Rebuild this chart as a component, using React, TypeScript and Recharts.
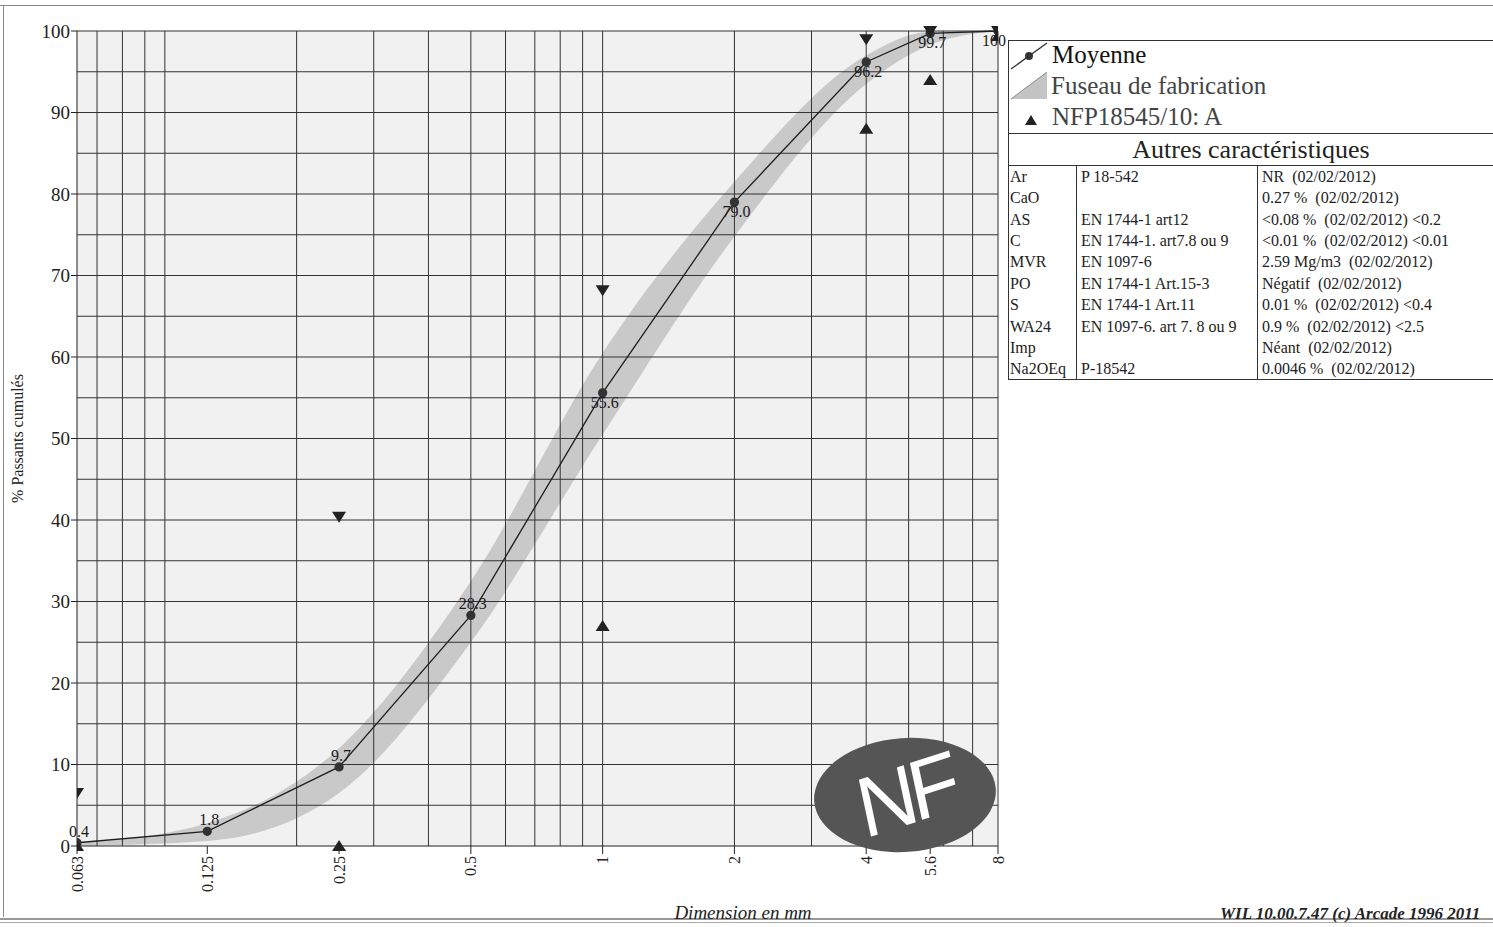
import React from "react";
import {
  ComposedChart,
  Line,
  Area,
  Scatter,
  XAxis,
  YAxis,
  ReferenceLine,
  ReferenceArea,
  LabelList,
} from "recharts";

// sieve sizes (mm) and cumulated passing (%)
const sizes = [0.063, 0.125, 0.25, 0.5, 1, 2, 4, 5.6, 8];
const moyenne = [0.4, 1.8, 9.7, 28.3, 55.6, 79.0, 96.2, 99.7, 100];
const fuseauLow = [0, 0.6, 6.5, 25, 50.5, 74.8, 93.5, 98.3, 100];
const fuseauHigh = [0.4, 2.8, 12, 32.5, 60.5, 81.5, 97, 99.9, 100];

// NFP18545/10: A limits
const limitSizes = [0.063, 0.25, 1, 4, 5.6, 8];
const limitUpper = [6.5, 40.4, 68.2, 99, 100, 100];
const limitLower = [0, 0, 27, 88, 94, 99.4];

const xTicks = [0.063, 0.125, 0.25, 0.5, 1, 2, 4, 5.6, 8];
const yTicks = [0, 10, 20, 30, 40, 50, 60, 70, 80, 90, 100];
const gridX = [0.07, 0.08, 0.09, 0.1, 0.2, 0.3, 0.4, 0.5, 0.6, 0.7, 0.8, 0.9, 1, 2, 3, 4, 5, 6, 7, 8];
const gridY = [5, 10, 15, 20, 25, 30, 35, 40, 45, 50, 55, 60, 65, 70, 75, 80, 85, 90, 95, 100];

const caracteristiques = [
  ["Ar", "P 18-542", "NR  (02/02/2012)"],
  ["CaO", "", "0.27 %  (02/02/2012)"],
  ["AS", "EN 1744-1 art12", "<0.08 %  (02/02/2012) <0.2"],
  ["C", "EN 1744-1. art7.8 ou 9", "<0.01 %  (02/02/2012) <0.01"],
  ["MVR", "EN 1097-6", "2.59 Mg/m3  (02/02/2012)"],
  ["PO", "EN 1744-1 Art.15-3", "Négatif  (02/02/2012)"],
  ["S", "EN 1744-1 Art.11", "0.01 %  (02/02/2012) <0.4"],
  ["WA24", "EN 1097-6. art 7. 8 ou 9", "0.9 %  (02/02/2012) <2.5"],
  ["Imp", "", "Néant  (02/02/2012)"],
  ["Na2OEq", "P-18542", "0.0046 %  (02/02/2012)"],
];

const data = sizes.map((s, i) => ({
  size: s,
  mean: moyenne[i],
  band: [fuseauLow[i], fuseauHigh[i]],
}));
const upperPts = limitSizes.map((s, i) => ({ size: s, val: limitUpper[i] }));
const lowerPts = limitSizes.map((s, i) => ({ size: s, val: limitLower[i] }));

const serif = "Liberation Serif, serif";

const XTick = ({ x, y, payload }: any) => (
  <text
    x={x}
    y={y}
    transform={`rotate(-90 ${x} ${y})`}
    textAnchor="end"
    dy="0.35em"
    fontSize={16}
    fontFamily={serif}
    fill="#222"
  >
    {payload.value}
  </text>
);

const DownTri = ({ cx, cy }: any) =>
  cx == null ? null : (
    <path d={`M${cx - 7},${cy - 5} L${cx + 7},${cy - 5} L${cx},${cy + 6} Z`} fill="#222" />
  );
const UpTri = ({ cx, cy }: any) =>
  cx == null ? null : (
    <path d={`M${cx - 7},${cy + 5} L${cx + 7},${cy + 5} L${cx},${cy - 6} Z`} fill="#222" />
  );

const MeanLabel = ({ x, y, value, index }: any) => {
  const below = index >= 4;
  const last = index === sizes.length - 1;
  return (
    <text
      x={last ? x - 4 : x + 2}
      y={below ? y + 15 : y - 6}
      textAnchor="middle"
      fontSize={16}
      fontFamily={serif}
      fill="#1a1a1a"
    >
      {index === 5 ? Number(value).toFixed(1) : value}
    </text>
  );
};

export default function App() {
  return (
    <div
      style={{
        position: "absolute",
        left: 0,
        top: 0,
        width: 1493,
        height: 927,
        background: "#fff",
        overflow: "hidden",
        fontFamily: serif,
      }}
    >
      {/* page frame */}
      <div style={{ position: "absolute", left: 0, top: 5, width: 1493, borderTop: "1.5px solid #888" }} />
      <div style={{ position: "absolute", left: 3, top: 5, height: 912, borderLeft: "1.5px solid #888" }} />
      <div style={{ position: "absolute", left: 0, top: 918, width: 1493, borderTop: "2px solid #999" }} />
      <div style={{ position: "absolute", left: 0, top: 922, width: 1493, borderTop: "1.5px solid #aaa" }} />

      <div style={{ position: "absolute", left: 0, top: 0 }}>
        <ComposedChart
          width={1030}
          height={927}
          data={data}
          margin={{ top: 31, right: 32, bottom: 21, left: 17 }}
        >
          <XAxis
            dataKey="size"
            type="number"
            scale="log"
            domain={[0.063, 8]}
            ticks={xTicks}
            allowDataOverflow
            height={60}
            tick={<XTick />}
            tickSize={8}
            tickMargin={2}
            interval={0}
            axisLine={{ stroke: "#222" }}
            tickLine={{ stroke: "#222" }}
          />
          <YAxis
            type="number"
            domain={[0, 100]}
            ticks={yTicks}
            width={60}
            tickSize={6}
            tickMargin={1}
            interval={0}
            tick={{ fontSize: 19, fontFamily: serif, fill: "#222" }}
            axisLine={{ stroke: "#222" }}
            tickLine={{ stroke: "#222" }}
            label={{
              value: "% Passants cumulés",
              angle: -90,
              position: "insideLeft",
              offset: 0,
              fontSize: 16,
              fontFamily: serif,
              fill: "#222",
              style: { textAnchor: "middle" },
            }}
          />
          <ReferenceArea x1={0.063} x2={8} y1={0} y2={100} fill="#f1f1f1" fillOpacity={1} stroke="none" />
          {gridY.map((v) => (
            <ReferenceLine key={"gy" + v} y={v} stroke="#333" strokeWidth={1} />
          ))}
          {gridX.map((v) => (
            <ReferenceLine key={"gx" + v} x={v} stroke="#333" strokeWidth={1} />
          ))}
          <Area
            dataKey="band"
            type="monotone"
            stroke="none"
            fill="#c4c4c4"
            fillOpacity={0.9}
            isAnimationActive={false}
            name="Fuseau de fabrication"
          />
          <Line
            dataKey="mean"
            type="linear"
            stroke="#1e1e1e"
            strokeWidth={1.3}
            dot={{ r: 4, fill: "#333", stroke: "#333" }}
            isAnimationActive={false}
            name="Moyenne"
          >
            <LabelList dataKey="mean" content={<MeanLabel />} />
          </Line>
          <Scatter data={upperPts} dataKey="val" shape={<DownTri />} isAnimationActive={false} />
          <Scatter data={lowerPts} dataKey="val" shape={<UpTri />} isAnimationActive={false} />
        </ComposedChart>
      </div>

      <div
        style={{
          position: "absolute",
          left: 643,
          width: 200,
          top: 902,
          textAlign: "center",
          fontSize: 19,
          fontStyle: "italic",
          fontFamily: serif,
          color: "#222",
        }}
      >
        Dimension en mm
      </div>

      {/* NF logo */}
      <div
        style={{
          position: "absolute",
          left: 814,
          top: 738,
          width: 182,
          height: 114,
          borderRadius: "50%",
          background: "#555",
          display: "flex",
          alignItems: "center",
          justifyContent: "center",
          color: "#fff",
          fontFamily: "Liberation Sans, sans-serif",
          fontSize: 84,
          letterSpacing: -7,
          transform: "rotate(-4deg)",
        }}
      >
        <span style={{ transform: "rotate(-14deg) skewX(-6deg)", display: "inline-block" }}>NF</span>
      </div>

      {/* legend + table */}
      <div
        style={{
          position: "absolute",
          left: 1008,
          top: 40,
          width: 484,
          borderLeft: "1.5px solid #333",
          borderTop: "1.5px solid #333",
          borderRight: "1.5px solid #333",
          color: "#222",
          fontFamily: serif,
        }}
      >
        <div style={{ height: 92, position: "relative" }}>
          <svg width={40} height={92} style={{ position: "absolute", left: 0, top: 0 }}>
            <line x1={2} y1={28} x2={38} y2={2} stroke="#333" strokeWidth={1.3} />
            <circle cx={20} cy={15} r={4} fill="#333" />
            <path d="M2,58 L38,31 L38,58 Z" fill="#c4c4c4" />
            <path d="M2,58 L38,31" stroke="#888" strokeWidth={1} />
            <path d="M16,84 L28,84 L22,74 Z" fill="#222" />
          </svg>
          <div style={{ position: "absolute", left: 43, top: 0, fontSize: 25, color: "#111", fontFamily: serif }}>
            Moyenne
          </div>
          <div style={{ position: "absolute", left: 42, top: 31, fontSize: 25, color: "#444", fontFamily: serif }}>
            Fuseau de fabrication
          </div>
          <div style={{ position: "absolute", left: 43, top: 62, fontSize: 25, color: "#444", fontFamily: serif }}>
            NFP18545/10: A
          </div>
        </div>
        <div
          style={{
            borderTop: "1.5px solid #333",
            height: 31,
            textAlign: "center",
            fontSize: 26,
            lineHeight: "31px",
            fontFamily: serif,
          }}
        >
          Autres caractéristiques
        </div>
        <table
          style={{
            borderCollapse: "collapse",
            width: "100%",
            fontSize: 16,
            fontFamily: serif,
            borderTop: "1.5px solid #333",
            borderBottom: "1.5px solid #333",
          }}
        >
          <tbody>
            {caracteristiques.map((r, i) => (
              <tr key={i} style={{ height: 21.4 }}>
                <td style={{ width: 66, padding: "0 0 0 1px", borderRight: "1.5px solid #333", lineHeight: "21px" }}>
                  {r[0]}
                </td>
                <td style={{ width: 176, padding: "0 0 0 4px", borderRight: "1.5px solid #333", lineHeight: "21px" }}>
                  {r[1]}
                </td>
                <td style={{ padding: "0 0 0 4px", lineHeight: "21px", whiteSpace: "pre" }}>{r[2]}</td>
              </tr>
            ))}
          </tbody>
        </table>
      </div>

      <div
        style={{
          position: "absolute",
          left: 1220,
          top: 904,
          fontSize: 17,
          lineHeight: "20px",
          fontStyle: "italic",
          fontWeight: "bold",
          fontFamily: serif,
          color: "#222",
          whiteSpace: "nowrap",
        }}
      >
        WIL 10.00.7.47 (c) Arcade 1996 2011
      </div>
    </div>
  );
}
